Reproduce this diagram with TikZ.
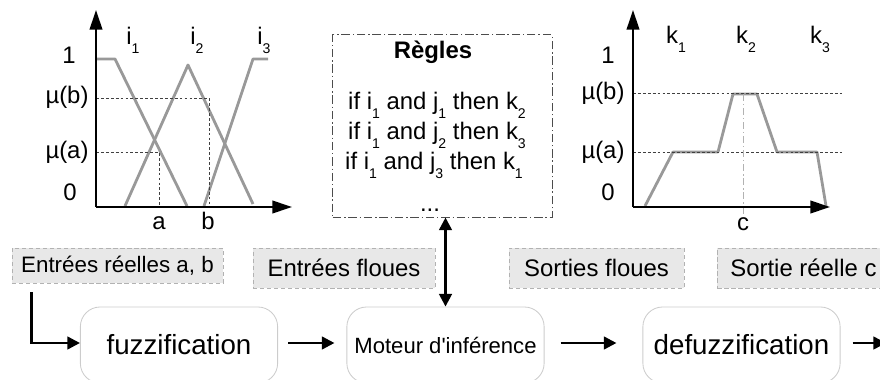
\documentclass[tikz,border=0pt]{standalone}
\usepackage{fontspec}
\setmainfont{Liberation Sans}[Ligatures=TeXOff]
\usetikzlibrary{arrows.meta}
\tikzstyle{fleche} = [-{Triangle[length=9pt,width=9pt]},line width=1.8pt]
\tikzstyle{axe} = [-{Triangle[length=14pt,width=9pt]},line width=1.3pt]
\tikzstyle{courbe} = [gray!80,line width=2pt,line join=round]
\tikzstyle{pointille} = [black!75,line width=0.5pt,dash pattern=on 2pt off 1.5pt]
\tikzstyle{etiquette} = [fill=gray!18,draw=gray!60,densely dashed,line width=0.5pt,inner sep=0pt,font=\fontsize{17}{20}\selectfont]
\tikzstyle{bloc} = [draw=gray!40,line width=0.6pt,rounded corners=14pt,minimum width=4.93cm,minimum height=1.9cm]
\tikzstyle{graduation} = [font=\fontsize{17}{20}\selectfont]
\newcommand{\ind}[1]{\raisebox{-0.7ex}{\fontsize{10}{10}\selectfont #1}}

\begin{document}
\begin{tikzpicture}[x=0.025cm,y=-0.025cm]
	\clip (0,0) rectangle (880,380);

	% graphe des entrees
	\draw[courbe] (96,59) -- (115,59) -- (187,206);
	\draw[courbe] (125,206) -- (188,65) -- (253,204);
	\draw[courbe] (204,206) -- (253,59) -- (268,59);
	\draw[pointille] (96,98) -- (209,98) -- (209,207);
	\draw[pointille] (96,152) -- (159,152) -- (159,207);
	\draw[axe] (96,207) -- (96,10);
	\draw[axe] (96,207) -- (292,207);

	\node[graduation] (un) at (69,55) {1};
	\node[graduation] (mub) at (67,97) {µ(b)};
	\node[graduation] (mua) at (67,152) {µ(a)};
	\node[graduation] (zero) at (70,192) {0};
	\node[graduation] (i1) at (133,40) {i\ind{1}};
	\node[graduation] (i2) at (197,40) {i\ind{2}};
	\node[graduation] (i3) at (264,40) {i\ind{3}};
	\node[graduation,anchor=base] (a) at (159,229) {a};
	\node[graduation,anchor=base] (b) at (208,229) {b};

	% graphe de la sortie
	\draw[courbe] (645,206) -- (673,152) -- (718,152) -- (733,94) -- (757,94)
		-- (777,152) -- (817,152) -- (826,206);
	\draw[pointille] (633,93) -- (842,93);
	\draw[pointille] (633,152) -- (842,152);
	\draw[gray!60,line width=0.5pt,dash pattern=on 5pt off 2pt on 1pt off 2pt] (743,94) -- (743,214);
	\draw[axe] (633,207) -- (633,10);
	\draw[axe] (633,207) -- (830,207);

	\node[graduation] (un2) at (608,55) {1};
	\node[graduation] (mub2) at (603,93) {µ(b)};
	\node[graduation] (mua2) at (603,152) {µ(a)};
	\node[graduation] (zero2) at (608,192) {0};
	\node[graduation] (k1) at (676,39) {k\ind{1}};
	\node[graduation] (k2) at (746,39) {k\ind{2}};
	\node[graduation] (k3) at (820,39) {k\ind{3}};
	\node[graduation,anchor=base] (c) at (743,230) {c};

	% regles
	\node[draw=black!70,line width=0.7pt,dash pattern=on 6pt off 2pt on 1pt off 2pt,
		minimum width=5.475cm,minimum height=4.55cm] (regles) at (442.5,126) {};
	\node[graduation] (titre) at (433,52) {\bfseries Règles};
	\node[graduation] (r1) at (437,105) {if i\ind{1} and j\ind{1} then k\ind{2}};
	\node[graduation] (r2) at (437,135) {if i\ind{1} and j\ind{2} then k\ind{3}};
	\node[graduation] (r3) at (434,165) {if i\ind{1} and j\ind{3} then k\ind{1}};
	\node[graduation] (suite) at (430,210) {...};

	% etiquettes
	\node[etiquette,font=\fontsize{15.9}{18}\selectfont,minimum width=5.275cm,minimum height=0.875cm] (reelles) at (117.5,265.5) {Entrées réelles a, b};
	\node[etiquette,minimum width=4.55cm,minimum height=1cm] (efloues) at (344,268) {Entrées floues};
	\node[etiquette,minimum width=4.375cm,minimum height=1cm] (sfloues) at (596.5,268) {Sorties floues};
	\node[etiquette,anchor=west,inner xsep=0.325cm,minimum height=1cm] (sreelle) at (717,268) {Sortie réelle c};

	% chaine de traitement
	\node[bloc,font=\fontsize{19.7}{24}\selectfont] (fuzz) at (179,345) {fuzzification};
	\node[bloc,font=\fontsize{15.7}{18}\selectfont] (moteur) at (445.5,345) {Moteur d'inférence};
	\node[bloc,font=\fontsize{19.7}{24}\selectfont] (defuzz) at (741.5,345) {defuzzification};
	\coordinate (sortie) at (886,345);

	\draw[fleche] ([xshift=0.5cm,yshift=-0.22cm]reelles.south west) |- ([yshift=0.05cm]fuzz.west);
	\draw[fleche] ([xshift=0.25cm,yshift=0.05cm]fuzz.east) -- ([xshift=-0.3cm,yshift=0.05cm]moteur.west);
	\draw[fleche] ([xshift=0.4cm,yshift=0.05cm]moteur.east) -- ([xshift=-0.65cm,yshift=0.05cm]defuzz.west);
	\draw[fleche] ([xshift=0.3cm,yshift=0.05cm]defuzz.east) -- ([yshift=0.05cm]sortie);
	\draw[{Triangle[length=9pt,width=9pt]}-{Triangle[length=9pt,width=9pt]},line width=1.8pt]
		(moteur.north |- regles.south) -- (moteur.north);
\end{tikzpicture}
\end{document}
